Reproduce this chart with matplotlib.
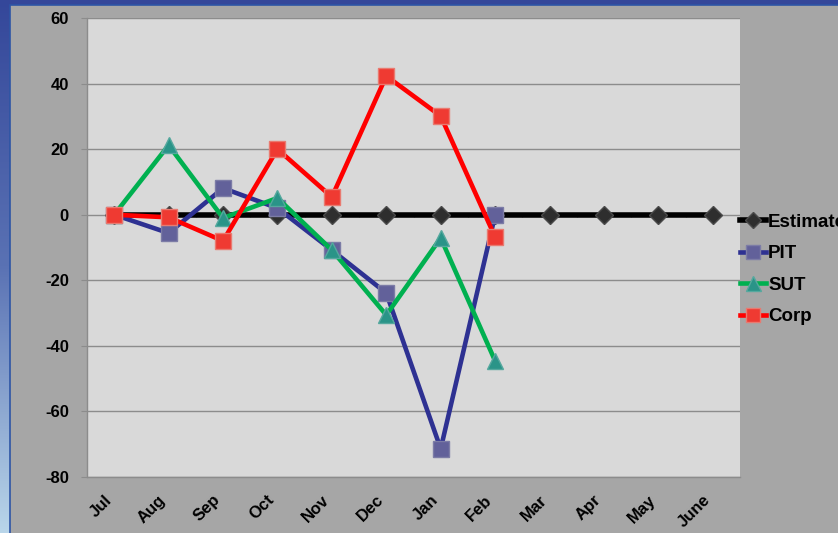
import numpy as np
import matplotlib.pyplot as plt
from matplotlib.colors import LinearSegmentedColormap
from matplotlib.patches import Rectangle

plt.rcParams['font.family'] = ['Liberation Sans', 'DejaVu Sans']

months = ["Jul", "Aug", "Sep", "Oct", "Nov", "Dec", "Jan", "Feb",
          "Mar", "Apr", "May", "June"]
estimate = [0, 0, 0, 0, 0, 0, 0, 0, 0, 0, 0, 0]
pit = [0, -5.6, 8.1, 2.0, -10.8, -23.9, -71.4, -0.1]
sut = [0, 21.2, -1.0, 5.1, -10.8, -30.6, -7.1, -44.6]
corp = [0, -0.8, -8.0, 20.0, 5.4, 42.3, 30.1, -6.8]
yticks = [-80, -60, -40, -20, 0, 20, 40, 60]

fig = plt.figure(figsize=(8.38, 5.33), dpi=100)

# blue gradient backdrop
bg = fig.add_axes([0, 0, 1, 1], zorder=-10)
grad = np.linspace(0, 1, 256).reshape(-1, 1)
cmap_bg = LinearSegmentedColormap.from_list("bg", ["#34479a", "#5a72b4", "#b9d6ea"])
bg.imshow(grad, aspect='auto', cmap=cmap_bg, extent=[0, 1, 0, 1], origin='upper')
bg.set_xlim(0, 1)
bg.set_ylim(0, 1)
bg.axis('off')
bg.add_patch(Rectangle((10 / 838, -0.01), 1, 1 - 5 / 533 + 0.01,
                       facecolor="#a6a6a6", edgecolor="#2d55a5", lw=1.2))

ax = fig.add_axes([87 / 838, 1 - 477 / 533, 653 / 838, 459 / 533])
ax.set_facecolor("#d9d9d9")
x = np.arange(len(months))

ax.plot(x, estimate, color="black", lw=4, marker="D", ms=9,
        mfc="#2e2e2e", mec="#4a4a4a", label="Estimate", zorder=3)
ax.plot(x[:len(pit)], pit, color="#2e3192", lw=3.3, marker="s", ms=11,
        mfc="#62619a", mec="#7c7ca6", label="PIT", zorder=4)
ax.plot(x[:len(sut)], sut, color="#00b050", lw=3.3, marker="^", ms=12,
        mfc="#2a9488", mec="#55a89e", label="SUT", zorder=5)
ax.plot(x[:len(corp)], corp, color="#ff0000", lw=3.3, marker="s", ms=11,
        mfc="#ef3a32", mec="#e97a70", label="Corp", zorder=6)

ax.set_xlim(-0.5, len(months) - 0.5)
ax.set_ylim(-80, 60)
ax.set_yticks(yticks)
ax.set_yticklabels([str(v) for v in yticks], fontsize=12, fontweight='bold')
ax.yaxis.grid(True, color="#8c8c8c", lw=1)
ax.set_axisbelow(True)
ax.tick_params(axis='y', length=4, color="#8c8c8c", pad=9)

ax.set_xticks(x)
ax.set_xticklabels(months, rotation=45, ha='right', fontsize=12, fontweight='bold')
ax.tick_params(axis='x', length=0, pad=11)

for s in ['top', 'right']:
    ax.spines[s].set_visible(False)
for s in ['left', 'bottom']:
    ax.spines[s].set_color("#8c8c8c")
    ax.spines[s].set_linewidth(1)

# category axis crossing at zero with small boundary ticks
sec = ax.secondary_xaxis(80 / 140)
sec.set_xticks(np.arange(0.5, len(months) - 0.5, 1))
sec.tick_params(length=3, direction='inout', color="#8c8c8c", labelbottom=False,
                labeltop=False)
sec.set_xticklabels([])
sec.spines['bottom'].set_visible(False)
sec.spines['top'].set_visible(False)

leg = ax.legend(loc='center left', bbox_to_anchor=(1.0, 0.452), frameon=False,
                prop={'weight': 'bold', 'size': 13.5}, handlelength=1.4,
                handletextpad=0.1, labelspacing=0.76, borderaxespad=0,
                borderpad=0, markerscale=0.9)

fig.savefig("out.png", dpi=100)
